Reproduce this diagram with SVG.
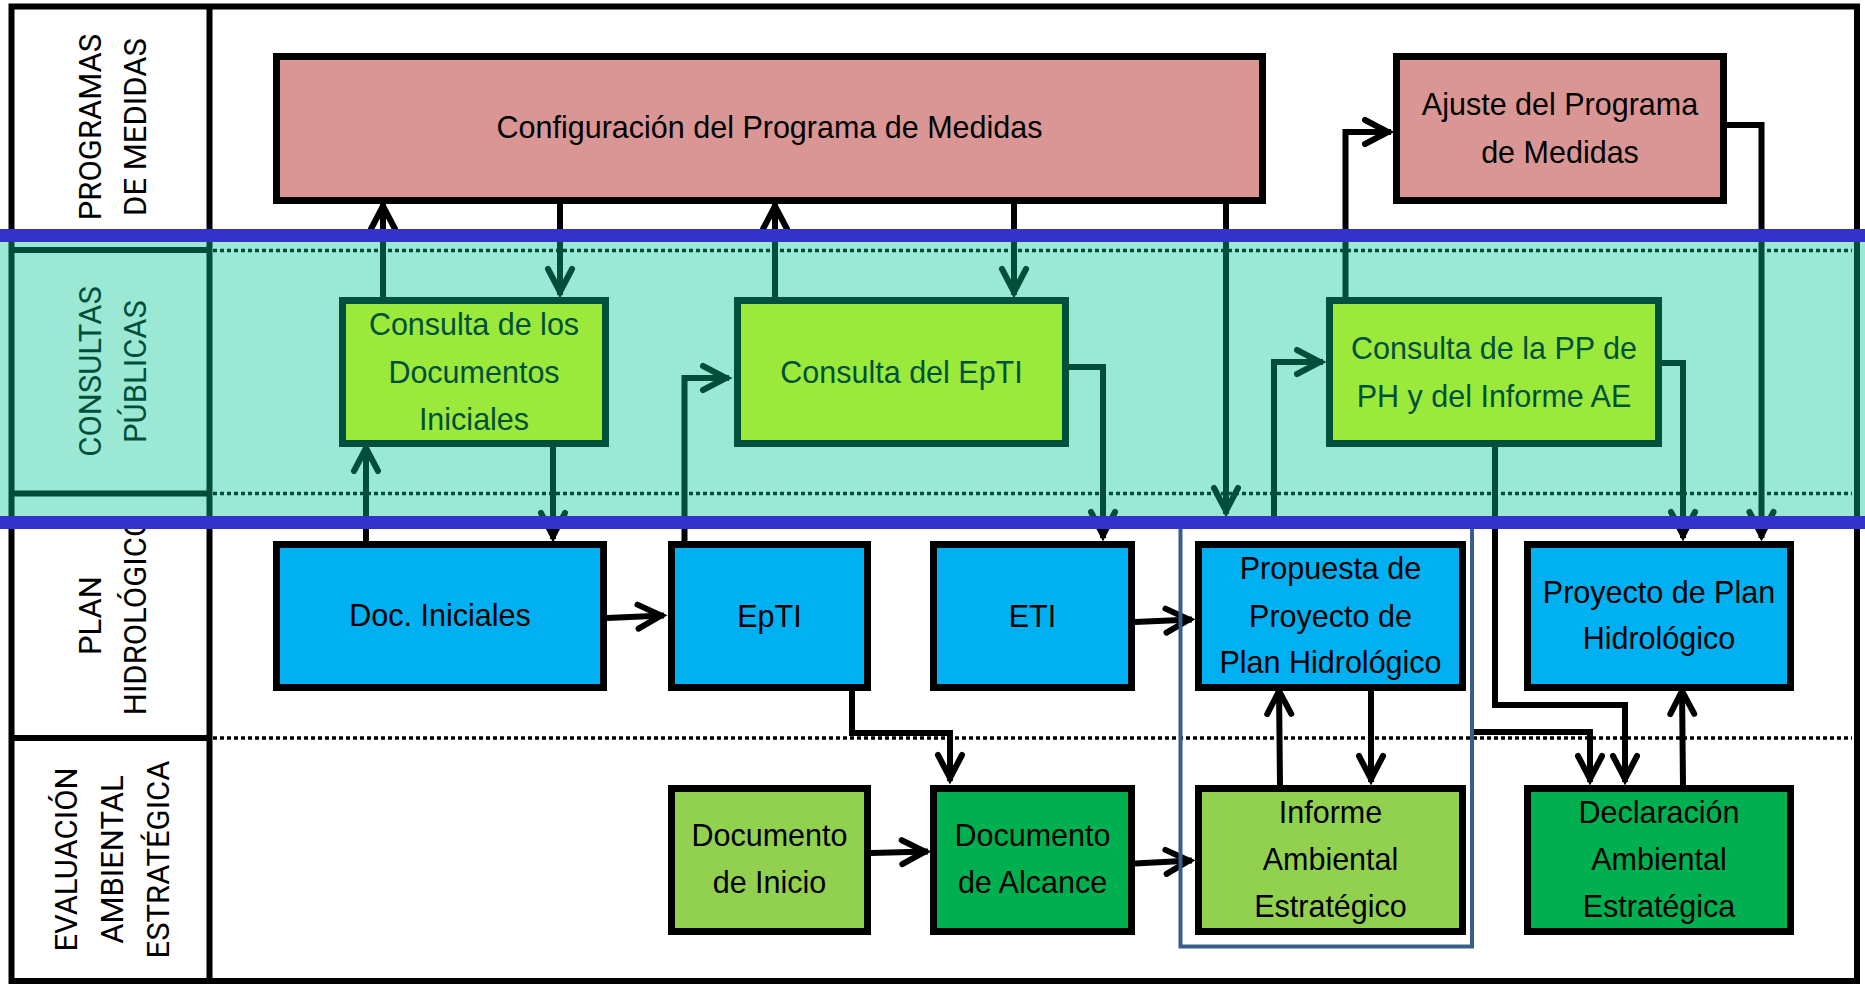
<svg xmlns="http://www.w3.org/2000/svg" width="1865" height="987" viewBox="0 0 1865 987">
<style>
.box{stroke:#000;stroke-width:7}
.cbox{fill:#9BE93B;stroke:#00503C;stroke-width:7}
.t{font-family:"Liberation Sans",Arial,sans-serif;font-size:30.5px;text-anchor:middle;fill:#000}
.tc{fill:#00503C}
.h{font-family:Roboto,"Liberation Sans",sans-serif;font-size:31px;text-anchor:middle;fill:#000}
.conn{fill:none;stroke:#000;stroke-width:6;marker-end:url(#arr)}
.frame{fill:none;stroke:#000;stroke-width:6}
.dot{stroke:#000;stroke-width:3.5;stroke-dasharray:4 3}
.band{fill:#3333CC}
</style>
<defs>
<marker id="arr" markerUnits="userSpaceOnUse" viewBox="-40 -20 50 40" markerWidth="50" markerHeight="40" refX="0" refY="0" orient="auto" overflow="visible">
<path d="M-26,-12 L-3,0 L-26,12" fill="none" stroke="#000" stroke-width="6" stroke-linecap="round" stroke-linejoin="miter"/>
</marker>
</defs>
<rect x="0" y="0" width="1865" height="987" fill="#fff"/>
<g id="lanes">
<rect class="frame" x="11.5" y="6.5" width="1845.5" height="974.5"/>
<line class="frame" x1="209.5" y1="6.5" x2="209.5" y2="981"/>
<line class="frame" x1="11.5" y1="250" x2="209.5" y2="250"/>
<line class="frame" x1="11.5" y1="493.5" x2="209.5" y2="493.5"/>
<line class="frame" x1="11.5" y1="738" x2="209.5" y2="738"/>
<line class="dot" x1="213" y1="250.5" x2="1852" y2="250.5"/>
<line class="dot" x1="213" y1="493.5" x2="1852" y2="493.5"/>
<line class="dot" x1="213" y1="738" x2="1852" y2="738"/>
</g>
<g id="lane-programas">
<text class="h" transform="translate(100.5,127) rotate(-90)">PROGRAMAS</text>
<text class="h" transform="translate(146,127) rotate(-90)">DE MEDIDAS</text>
</g>
<g id="lane-consultas">
<text class="h" transform="translate(100.5,371.5) rotate(-90)">CONSULTAS</text>
<text class="h" transform="translate(146,371.5) rotate(-90)">PÚBLICAS</text>
</g>
<g id="lane-plan">
<text class="h" transform="translate(100.5,615.5) rotate(-90)">PLAN</text>
<text class="h" transform="translate(146,615.5) rotate(-90)">HIDROLÓGICO</text>
</g>
<g id="lane-eae">
<text class="h" transform="translate(77,859.5) rotate(-90)">EVALUACIÓN</text>
<text class="h" transform="translate(123,859.5) rotate(-90)">AMBIENTAL</text>
<text class="h" transform="translate(169,859.5) rotate(-90)">ESTRATÉGICA</text>
</g>
<g id="connectors">
<path class="conn" d="M383,297 V203"/>
<path class="conn" d="M560,204 V295"/>
<path class="conn" d="M366,541 V445"/>
<path class="conn" d="M553,447 V539"/>
<path class="conn" d="M607,618 L664,615.5"/>
<path class="conn" d="M684.5,541 V378 H729"/>
<path class="conn" d="M1014,204 V295"/>
<path class="conn" d="M775,297 V203"/>
<path class="conn" d="M1066,367 H1103 V538"/>
<path class="conn" d="M1226,204 V514"/>
<path class="conn" d="M1135,622 L1192,619.5"/>
<path class="conn" d="M1274,522 V362 H1323"/>
<path class="conn" d="M1345.5,297 V132 H1391"/>
<path class="conn" d="M1727,125 H1761.5 V538"/>
<path class="conn" d="M1662,363 H1683 V538"/>
<path class="conn" d="M1495,447 V705 H1625 V782"/>
<path class="conn" d="M852,691 V733 H950 V781"/>
<path class="conn" d="M1472,732 H1590 V782"/>
<path class="conn" d="M871,853 L928,851.5"/>
<path class="conn" d="M1135,863.5 L1192,860.5"/>
<path class="conn" d="M1280,785 L1279,688"/>
<path class="conn" d="M1371,691 V782"/>
<path class="conn" d="M1683,785 L1682,688"/>
</g>
<g id="n-config">
<rect class="box" x="276.5" y="56.5" width="986" height="144" fill="#D99694"/>
<text class="t" x="769.5" y="138">Configuración del Programa de Medidas</text>
</g>
<g id="n-ajuste">
<rect class="box" x="1396.5" y="56.5" width="327" height="144" fill="#D99694"/>
<text class="t" x="1560" y="115">Ajuste del Programa</text>
<text class="t" x="1560" y="163">de Medidas</text>
</g>
<g id="n-docini">
<rect class="box" x="276.5" y="544.5" width="327" height="143" fill="#00B0F0"/>
<text class="t" x="440" y="626">Doc. Iniciales</text>
</g>
<g id="n-epti">
<rect class="box" x="671.5" y="544.5" width="196" height="143" fill="#00B0F0"/>
<text class="t" x="769.5" y="627">EpTI</text>
</g>
<g id="n-eti">
<rect class="box" x="933.5" y="544.5" width="198" height="143" fill="#00B0F0"/>
<text class="t" x="1032.5" y="627">ETI</text>
</g>
<g id="n-propuesta">
<rect class="box" x="1198.5" y="544.5" width="264" height="143" fill="#00B0F0"/>
<text class="t" x="1330.5" y="579">Propuesta de</text>
<text class="t" x="1330.5" y="626.5">Proyecto de</text>
<text class="t" x="1330.5" y="673">Plan Hidrológico</text>
</g>
<g id="n-proyecto">
<rect class="box" x="1527.5" y="544.5" width="263" height="143" fill="#00B0F0"/>
<text class="t" x="1659" y="603">Proyecto de Plan</text>
<text class="t" x="1659" y="649">Hidrológico</text>
</g>
<g id="n-docinicio">
<rect class="box" x="671.5" y="788.5" width="196" height="143" fill="#92D050"/>
<text class="t" x="769.5" y="846">Documento</text>
<text class="t" x="769.5" y="893">de Inicio</text>
</g>
<g id="n-alcance">
<rect class="box" x="933.5" y="788.5" width="198" height="143" fill="#00B050"/>
<text class="t" x="1032.5" y="846">Documento</text>
<text class="t" x="1032.5" y="893">de Alcance</text>
</g>
<g id="n-informe">
<rect class="box" x="1198.5" y="788.5" width="264" height="143" fill="#92D050"/>
<text class="t" x="1330.5" y="823">Informe</text>
<text class="t" x="1330.5" y="870">Ambiental</text>
<text class="t" x="1330.5" y="917">Estratégico</text>
</g>
<g id="n-declaracion">
<rect class="box" x="1527.5" y="788.5" width="263" height="143" fill="#00B050"/>
<text class="t" x="1659" y="823">Declaración</text>
<text class="t" x="1659" y="870">Ambiental</text>
<text class="t" x="1659" y="917">Estratégica</text>
</g>
<rect id="consultas-band" x="0" y="235" width="1865" height="287" fill="#00C794" fill-opacity="0.392"/>
<g id="n-cons-docs">
<rect class="cbox" x="342.5" y="300.5" width="263" height="143"/>
<text class="t tc" x="474" y="335">Consulta de los</text>
<text class="t tc" x="474" y="383">Documentos</text>
<text class="t tc" x="474" y="430">Iniciales</text>
</g>
<g id="n-cons-epti">
<rect class="cbox" x="737.5" y="300.5" width="328" height="143"/>
<text class="t tc" x="901.5" y="383">Consulta del EpTI</text>
</g>
<g id="n-cons-pp">
<rect class="cbox" x="1329.5" y="300.5" width="329" height="143"/>
<text class="t tc" x="1494" y="359">Consulta de la PP de</text>
<text class="t tc" x="1494" y="407">PH y del Informe AE</text>
</g>
<g id="g-propuesta-informe">
<rect x="1180.5" y="522" width="291.5" height="424.5" fill="none" stroke="#3A5E8C" stroke-width="4"/>
</g>
<g id="band-lines">
<rect class="band" x="0" y="229" width="1865" height="13"/>
<rect class="band" x="0" y="516" width="1865" height="13"/>
</g>
</svg>
